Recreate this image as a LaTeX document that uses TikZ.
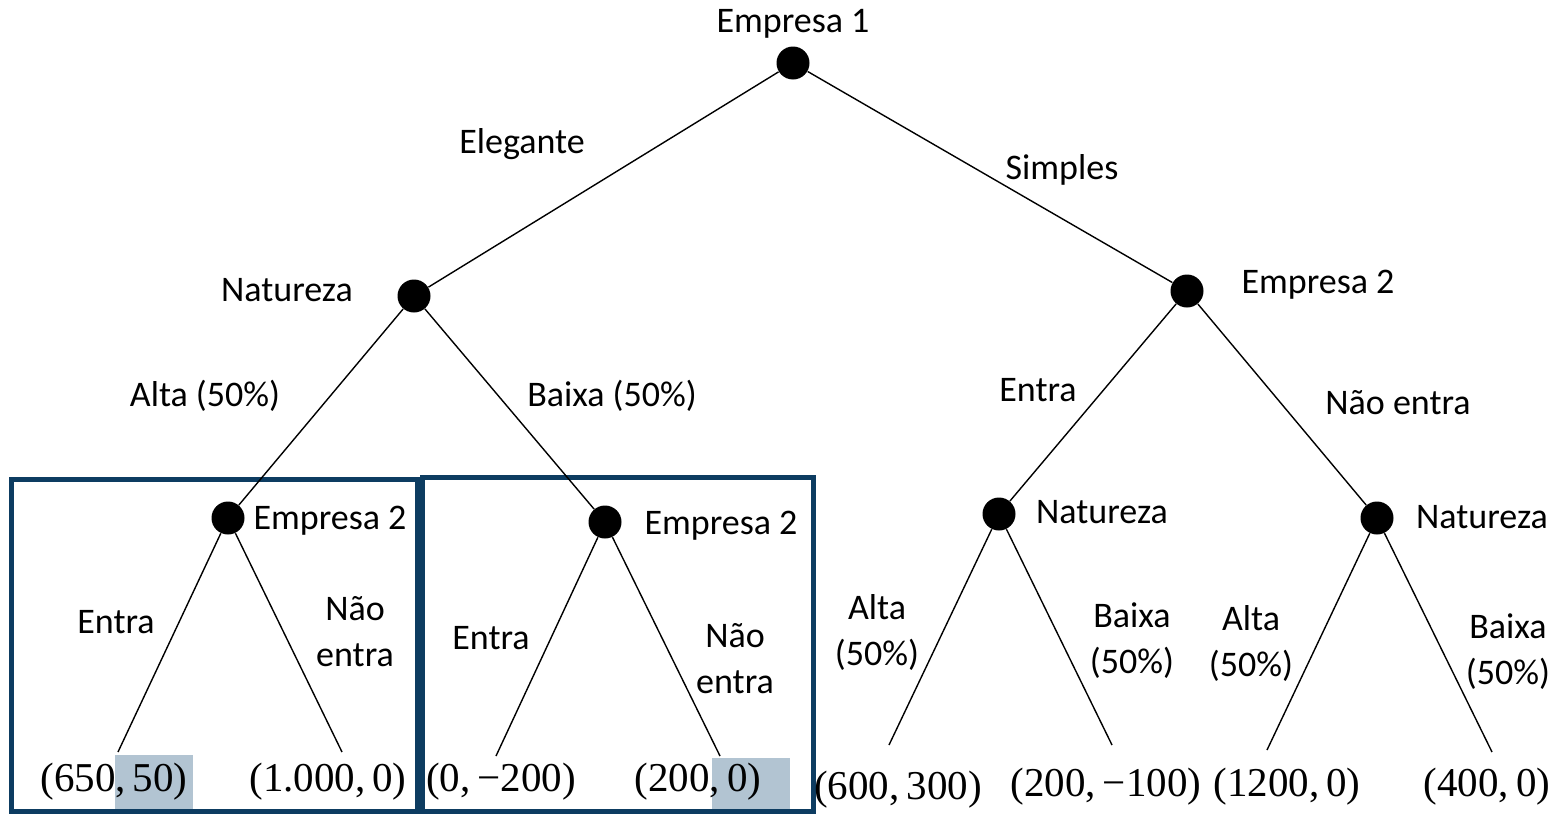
\documentclass[tikz,border=0pt]{standalone}
\usepackage{fontspec}
\setmainfont{Carlito}
\newfontfamily\payofffont{Liberation Serif}
\definecolor{navy}{RGB}{13,60,97}
\definecolor{hlblue}{RGB}{178,196,210}
\begin{document}
\begin{tikzpicture}[x=0.5pt,y=-0.5pt,
  decision/.style={circle,fill=black,inner sep=0pt,minimum size=16.5pt},
  branch/.style={line width=0.7pt},
  lbl/.style={font=\fontsize{18}{23}\selectfont,inner sep=0pt,align=center},
  payoff/.style={font=\payofffont\fontsize{20.5}{24}\selectfont,inner sep=0pt},
  frame/.style={draw=navy,line width=2.5pt},
  hl/.style={fill=hlblue}]
\useasboundingbox (0,0) rectangle (1562,814);

% highlighted payoff cells
\fill[hl] (115,755) rectangle (193,809);
\fill[hl] (712,758) rectangle (790,814);

% frames around the two lower subgames
\draw[frame] (11,479) rectangle (417,811);
\draw[frame] (422,477) rectangle (813,811);

% decision nodes
\node[decision] (r)  at (793,63) {};
\node[decision] (n1) at (414,296) {};
\node[decision] (e2) at (1187,291) {};
\node[decision] (a)  at (228,518) {};
\node[decision] (b)  at (605,522) {};
\node[decision] (c)  at (999,514) {};
\node[decision] (d)  at (1377,518) {};

% terminal points
\coordinate (l1) at (118,752);
\coordinate (l2) at (342,752);
\coordinate (l3) at (496,756);
\coordinate (l4) at (720,756);
\coordinate (l5) at (889,745);
\coordinate (l6) at (1112,745);
\coordinate (l7) at (1267,750);
\coordinate (l8) at (1492,752);

% branches
\draw[branch] (r) -- (n1);
\draw[branch] (r) -- (e2);
\draw[branch] (n1) -- (a);
\draw[branch] (n1) -- (b);
\draw[branch] (e2) -- (c);
\draw[branch] (e2) -- (d);
\draw[branch] (a) -- (l1);
\draw[branch] (a) -- (l2);
\draw[branch] (b) -- (l3);
\draw[branch] (b) -- (l4);
\draw[branch] (c) -- (l5);
\draw[branch] (c) -- (l6);
\draw[branch] (d) -- (l7);
\draw[branch] (d) -- (l8);

% player and move labels
\node[lbl] (t1) at (793,24) {Empresa 1};
\node[lbl] (t2) at (522,144) {Elegante};
\node[lbl] (t3) at (1062,170) {Simples};
\node[lbl] (t4) at (287,290) {Natureza};
\node[lbl] (t5) at (1318,285) {Empresa 2};
\node[lbl] (t6) at (205,396) {Alta (50\%)};
\node[lbl] (t7) at (612,396) {Baixa (50\%)};
\node[lbl] (t8) at (1038,390) {Entra};
\node[lbl] (t9) at (1398,403) {Não entra};
\node[lbl] (t10) at (330,521) {Empresa 2};
\node[lbl] (t11) at (721,526) {Empresa 2};
\node[lbl] (t12) at (1102,512) {Natureza};
\node[lbl] (t13) at (1482,517) {Natureza};
\node[lbl] (t14) at (116,622) {Entra};
\node[lbl] (t15) at (355,632) {Não\\entra};
\node[lbl] (t16) at (491,638) {Entra};
\node[lbl] (t17) at (735,659) {Não\\entra};
\node[lbl] (t18) at (877,632) {Alta\\(50\%)};
\node[lbl] (t19) at (1132,641) {Baixa\\(50\%)};
\node[lbl] (t20) at (1251,643) {Alta\\(50\%)};
\node[lbl] (t21) at (1508,652) {Baixa\\(50\%)};

% payoffs
\node[payoff] (p1) at (114,782) {(650,\,50)};
\node[payoff] (p2) at (328,782) {(1.000,\,0)};
\node[payoff] (p3) at (501,782) {(0,\,−200)};
\node[payoff] (p4) at (698,782) {(200,\,0)};
\node[payoff] (p5) at (898,790) {(600,\,300)};
\node[payoff] (p6) at (1106,787) {(200,\,−100)};
\node[payoff] (p7) at (1287,787) {(1200,\,0)};
\node[payoff] (p8) at (1487,787) {(400,\,0)};
\end{tikzpicture}
\end{document}
